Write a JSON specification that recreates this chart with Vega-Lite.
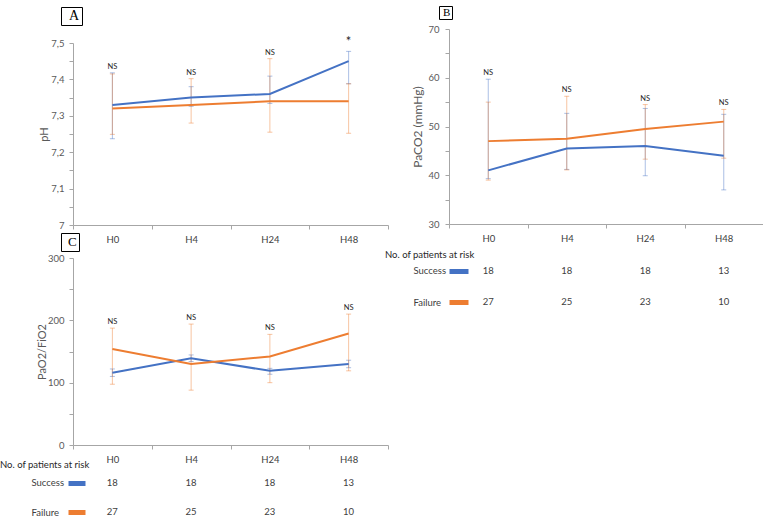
{
  "$schema": "https://vega.github.io/schema/vega-lite/v6.json",
  "background": "white",
  "padding": {"left": 0, "top": 5, "right": 0, "bottom": 0},
  "config": {"font": "Lato", "view": {"stroke": null}, "axis": {"labelOverlap": false}, "legend": {"columnPadding": 0, "rowPadding": 0, "symbolOffset": 0, "columns": 1}},
  "datasets": {
    "ph": [
      {"t": "H0", "group": "Success", "mean": 7.33, "lo": 7.237, "hi": 7.418, "sig": "NS"},
      {"t": "H0", "group": "Failure", "mean": 7.32, "lo": 7.249, "hi": 7.415, "sig": "NS"},
      {"t": "H4", "group": "Success", "mean": 7.35, "lo": 7.326, "hi": 7.38, "sig": "NS"},
      {"t": "H4", "group": "Failure", "mean": 7.33, "lo": 7.28, "hi": 7.402, "sig": "NS"},
      {"t": "H24", "group": "Success", "mean": 7.36, "lo": 7.334, "hi": 7.409, "sig": "NS"},
      {"t": "H24", "group": "Failure", "mean": 7.34, "lo": 7.255, "hi": 7.457, "sig": "NS"},
      {"t": "H48", "group": "Success", "mean": 7.45, "lo": 7.388, "hi": 7.477, "sig": "*"},
      {"t": "H48", "group": "Failure", "mean": 7.34, "lo": 7.252, "hi": 7.388, "sig": "*"}
    ],
    "paco2": [
      {"t": "H0", "group": "Success", "mean": 41, "lo": 39.3, "hi": 59.7, "sig": "NS"},
      {"t": "H0", "group": "Failure", "mean": 47, "lo": 39, "hi": 55, "sig": "NS"},
      {"t": "H4", "group": "Success", "mean": 45.5, "lo": 41.2, "hi": 52.7, "sig": "NS"},
      {"t": "H4", "group": "Failure", "mean": 47.5, "lo": 41.1, "hi": 56.2, "sig": "NS"},
      {"t": "H24", "group": "Success", "mean": 46, "lo": 39.9, "hi": 53.7, "sig": "NS"},
      {"t": "H24", "group": "Failure", "mean": 49.5, "lo": 43.3, "hi": 54.5, "sig": "NS"},
      {"t": "H48", "group": "Success", "mean": 44, "lo": 37, "hi": 52.5, "sig": "NS"},
      {"t": "H48", "group": "Failure", "mean": 51, "lo": 43.5, "hi": 53.5, "sig": "NS"}
    ],
    "pao2": [
      {"t": "H0", "group": "Success", "mean": 116, "lo": 110, "hi": 122, "sig": "NS"},
      {"t": "H0", "group": "Failure", "mean": 154, "lo": 97.5, "hi": 187.5, "sig": "NS"},
      {"t": "H4", "group": "Success", "mean": 139, "lo": 134, "hi": 144.5, "sig": "NS"},
      {"t": "H4", "group": "Failure", "mean": 130, "lo": 88, "hi": 194, "sig": "NS"},
      {"t": "H24", "group": "Success", "mean": 119, "lo": 113.5, "hi": 123, "sig": "NS"},
      {"t": "H24", "group": "Failure", "mean": 142, "lo": 100, "hi": 177.5, "sig": "NS"},
      {"t": "H48", "group": "Success", "mean": 130, "lo": 124, "hi": 136, "sig": "NS"},
      {"t": "H48", "group": "Failure", "mean": 179, "lo": 119, "hi": 210, "sig": "NS"}
    ],
    "risk": [
      {"t": "H0", "group": "Success", "n": 18},
      {"t": "H4", "group": "Success", "n": 18},
      {"t": "H24", "group": "Success", "n": 18},
      {"t": "H48", "group": "Success", "n": 13},
      {"t": "H0", "group": "Failure", "n": 27},
      {"t": "H4", "group": "Failure", "n": 25},
      {"t": "H24", "group": "Failure", "n": 23},
      {"t": "H48", "group": "Failure", "n": 10}
    ]
  },
  "spacing": -4,
  "resolve": {"scale": {"x": "independent", "y": "independent", "shape": "independent"}, "legend": {"shape": "independent"}},
  "hconcat": [
    {
      "vconcat": [
        {
          "width": 315, "height": 196,
          "data": {"name": "ph"},
          "encoding": {"x": {"field": "t", "type": "nominal", "sort": ["H0", "H4", "H24", "H48"], "scale": {"type": "band", "paddingInner": 0, "paddingOuter": 0}, "axis": {"title": null, "labelAngle": 0, "tickBand": "extent", "tickSize": 4, "domainColor": "#a6a6a6", "tickColor": "#a6a6a6", "labelColor": "#404040", "labelFontSize": 9.5, "labelPadding": 5}}},
          "layer": [
            {"mark": {"type": "errorbar", "ticks": {"size": 5}, "thickness": 1, "opacity": 0.45},
             "encoding": {
               "y": {"field": "lo", "type": "quantitative", "scale": {"domain": [7, 7.5], "range": [196, 14]}, "axis": {"title": "pH", "values": [7, 7.05, 7.1, 7.15, 7.2, 7.25, 7.3, 7.35, 7.4, 7.45, 7.5], "tickCount": 50, "labelExpr": "indexof(['7', '7.1', '7.2', '7.3', '7.4', '7.5'], format(datum.value, '.2~f')) >= 0 ? replace(format(datum.value, '.1~f'), '.', ',') : ''", "labelOverlap": false, "grid": false, "domainColor": "#a6a6a6", "tickColor": "#a6a6a6", "tickSize": 4, "labelColor": "#595959", "labelFontSize": 9.5, "labelPadding": 5, "titleColor": "#595959", "titleFontSize": 11, "titleFontWeight": "normal", "titlePadding": 1}},
               "y2": {"field": "hi"},
               "color": {"field": "group", "type": "nominal", "scale": {"domain": ["Success", "Failure"], "range": ["#4472C4", "#ED7D31"]}, "legend": null}}},
            {"mark": {"type": "line", "strokeWidth": 2},
             "encoding": {"y": {"field": "mean", "type": "quantitative"}, "color": {"field": "group", "type": "nominal", "scale": {"domain": ["Success", "Failure"], "range": ["#4472C4", "#ED7D31"]}, "legend": null}}},
            {"transform": [{"aggregate": [{"op": "max", "field": "hi", "as": "top"}], "groupby": ["t", "sig"]}],
             "mark": {"type": "text", "baseline": "bottom", "dy": -2, "color": "#262626"},
             "encoding": {"y": {"field": "top", "type": "quantitative"}, "text": {"field": "sig"}, "size": {"condition": {"test": "datum.sig === '*'", "value": 13}, "value": 7.5}}},
            {"mark": {"type": "point", "opacity": 0},
             "encoding": {"y": {"field": "mean", "type": "quantitative"}, "shape": {"datum": "A", "scale": {"range": ["square"]}, "legend": {"title": null, "orient": "none", "legendX": -12, "legendY": -22, "strokeColor": "#000000", "padding": 2, "symbolSize": 1, "symbolOpacity": 0, "symbolStrokeWidth": 0, "labelOffset": -8, "labelFont": "Liberation Serif", "labelFontSize": 14, "labelColor": "#000000"}}}}
          ]
        },
        {
          "width": 315, "height": 187,
          "data": {"name": "pao2"},
          "encoding": {"x": {"field": "t", "type": "nominal", "sort": ["H0", "H4", "H24", "H48"], "scale": {"type": "band", "paddingInner": 0, "paddingOuter": 0}, "axis": {"title": null, "labelAngle": 0, "tickBand": "extent", "tickSize": 4, "domainColor": "#a6a6a6", "tickColor": "#a6a6a6", "labelColor": "#404040", "labelFontSize": 9.5, "labelPadding": 5}}},
          "layer": [
            {"mark": {"type": "errorbar", "ticks": {"size": 5}, "thickness": 1, "opacity": 0.45},
             "encoding": {
               "y": {"field": "lo", "type": "quantitative", "scale": {"domain": [0, 300]}, "axis": {"title": "PaO2/FiO2", "values": [0, 50, 100, 150, 200, 250, 300], "tickCount": 50, "labelExpr": "datum.value % 100 === 0 ? datum.label : ''", "labelOverlap": false, "grid": false, "domainColor": "#a6a6a6", "tickColor": "#a6a6a6", "tickSize": 4, "labelColor": "#595959", "labelFontSize": 9.5, "labelPadding": 5, "titleColor": "#595959", "titleFontSize": 11, "titleFontWeight": "normal", "titlePadding": 0}},
               "y2": {"field": "hi"},
               "color": {"field": "group", "type": "nominal", "scale": {"domain": ["Success", "Failure"], "range": ["#4472C4", "#ED7D31"]}, "legend": null}}},
            {"mark": {"type": "line", "strokeWidth": 2},
             "encoding": {"y": {"field": "mean", "type": "quantitative"}, "color": {"field": "group", "type": "nominal", "scale": {"domain": ["Success", "Failure"], "range": ["#4472C4", "#ED7D31"]}, "legend": null}}},
            {"transform": [{"aggregate": [{"op": "max", "field": "hi", "as": "top"}], "groupby": ["t", "sig"]}],
             "mark": {"type": "text", "baseline": "bottom", "dy": -2, "fontSize": 7.5, "color": "#262626"},
             "encoding": {"y": {"field": "top", "type": "quantitative"}, "text": {"field": "sig"}}},
            {"mark": {"type": "point", "opacity": 0},
             "encoding": {"y": {"field": "mean", "type": "quantitative"}, "shape": {"datum": "C", "scale": {"range": ["square"]}, "legend": {"title": null, "orient": "none", "legendX": -12, "legendY": -25, "strokeColor": "#000000", "padding": 2, "symbolSize": 1, "symbolOpacity": 0, "symbolStrokeWidth": 0, "labelOffset": -8, "labelFont": "Liberation Serif", "labelFontSize": 13, "labelColor": "#000000"}}}}
          ]
        },
        {
          "width": 315, "height": 39,
          "data": {"name": "risk"},
          "title": {"text": "No. of patients at risk", "anchor": "start", "frame": "group", "dx": -73, "offset": 8, "fontSize": 9.5, "fontWeight": "normal", "color": "#262626", "baseline": "top"},
          "mark": {"type": "text", "fontSize": 9.5, "color": "#404040"},
          "encoding": {
            "x": {"field": "t", "type": "nominal", "sort": ["H0", "H4", "H24", "H48"], "scale": {"type": "band", "paddingInner": 0, "paddingOuter": 0}, "axis": null},
            "y": {"field": "group", "type": "nominal", "sort": ["Success", "Failure"], "scale": {"type": "point", "padding": 0.172}, "axis": {"title": null, "domain": false, "orient": "left", "offset": -12, "tickSize": 17, "tickWidth": 5, "tickCap": "butt", "tickColor": {"condition": {"test": "datum.value === 'Success'", "value": "#4472C4"}, "value": "#ED7D31"}, "labelAlign": "left", "labelPadding": 37, "labelFontSize": 9.5, "labelColor": "#404040", "labelBaseline": "middle"}},
            "text": {"field": "n", "type": "quantitative"}
          }
        }
      ],
      "spacing": 33,
      "bounds": "flush",
      "resolve": {"scale": {"x": "independent", "y": "independent", "shape": "independent"}, "legend": {"shape": "independent"}}
    },
    {
      "vconcat": [
        {
          "width": 314, "height": 195,
          "data": {"name": "paco2"},
          "encoding": {"x": {"field": "t", "type": "nominal", "sort": ["H0", "H4", "H24", "H48"], "scale": {"type": "band", "paddingInner": 0, "paddingOuter": 0}, "axis": {"title": null, "labelAngle": 0, "tickBand": "extent", "tickSize": 4, "domainColor": "#a6a6a6", "tickColor": "#a6a6a6", "labelColor": "#404040", "labelFontSize": 9.5, "labelPadding": 5}}},
          "layer": [
            {"mark": {"type": "errorbar", "ticks": {"size": 5}, "thickness": 1, "opacity": 0.45},
             "encoding": {
               "y": {"field": "lo", "type": "quantitative", "scale": {"domain": [30, 70]}, "axis": {"title": "PaCO2 (mmHg)", "values": [30, 35, 40, 45, 50, 55, 60, 65, 70], "tickCount": 50, "labelExpr": "datum.value % 10 === 0 ? datum.label : ''", "labelOverlap": false, "grid": false, "domainColor": "#a6a6a6", "tickColor": "#a6a6a6", "tickSize": 4, "labelColor": "#595959", "labelFontSize": 9.5, "labelPadding": 6, "titleColor": "#595959", "titleFontSize": 12, "titleFontWeight": "normal", "titlePadding": 3}},
               "y2": {"field": "hi"},
               "color": {"field": "group", "type": "nominal", "scale": {"domain": ["Success", "Failure"], "range": ["#4472C4", "#ED7D31"]}, "legend": null}}},
            {"mark": {"type": "line", "strokeWidth": 2},
             "encoding": {"y": {"field": "mean", "type": "quantitative"}, "color": {"field": "group", "type": "nominal", "scale": {"domain": ["Success", "Failure"], "range": ["#4472C4", "#ED7D31"]}, "legend": null}}},
            {"transform": [{"aggregate": [{"op": "max", "field": "hi", "as": "top"}], "groupby": ["t", "sig"]}],
             "mark": {"type": "text", "baseline": "bottom", "dy": -2, "fontSize": 7.5, "color": "#262626"},
             "encoding": {"y": {"field": "top", "type": "quantitative"}, "text": {"field": "sig"}}},
            {"mark": {"type": "point", "opacity": 0},
             "encoding": {"y": {"field": "mean", "type": "quantitative"}, "shape": {"datum": "B", "scale": {"range": ["square"]}, "legend": {"title": null, "orient": "none", "legendX": -10, "legendY": -23, "strokeColor": "#000000", "padding": 1, "symbolSize": 1, "symbolOpacity": 0, "symbolStrokeWidth": 0, "labelOffset": -8, "labelFont": "Liberation Serif", "labelFontSize": 11, "labelColor": "#000000"}}}}
          ]
        },
        {
          "width": 314, "height": 41,
          "data": {"name": "risk"},
          "title": {"text": "No. of patients at risk", "anchor": "start", "frame": "group", "dx": -64, "offset": 6, "fontSize": 9.5, "fontWeight": "normal", "color": "#262626", "baseline": "top"},
          "mark": {"type": "text", "fontSize": 9.5, "color": "#404040"},
          "encoding": {
            "x": {"field": "t", "type": "nominal", "sort": ["H0", "H4", "H24", "H48"], "scale": {"type": "band", "paddingInner": 0, "paddingOuter": 0}, "axis": null},
            "y": {"field": "group", "type": "nominal", "sort": ["Success", "Failure"], "scale": {"type": "point", "padding": 0.161}, "axis": {"title": null, "domain": false, "orient": "left", "offset": -19, "tickSize": 19, "tickWidth": 5, "tickCap": "butt", "tickColor": {"condition": {"test": "datum.value === 'Success'", "value": "#4472C4"}, "value": "#ED7D31"}, "labelAlign": "left", "labelPadding": 36, "labelFontSize": 9.5, "labelColor": "#404040", "labelBaseline": "middle"}},
            "text": {"field": "n", "type": "quantitative"}
          }
        }
      ],
      "spacing": 42,
      "bounds": "flush",
      "resolve": {"scale": {"x": "independent", "y": "independent", "shape": "independent"}, "legend": {"shape": "independent"}}
    }
  ]
}
